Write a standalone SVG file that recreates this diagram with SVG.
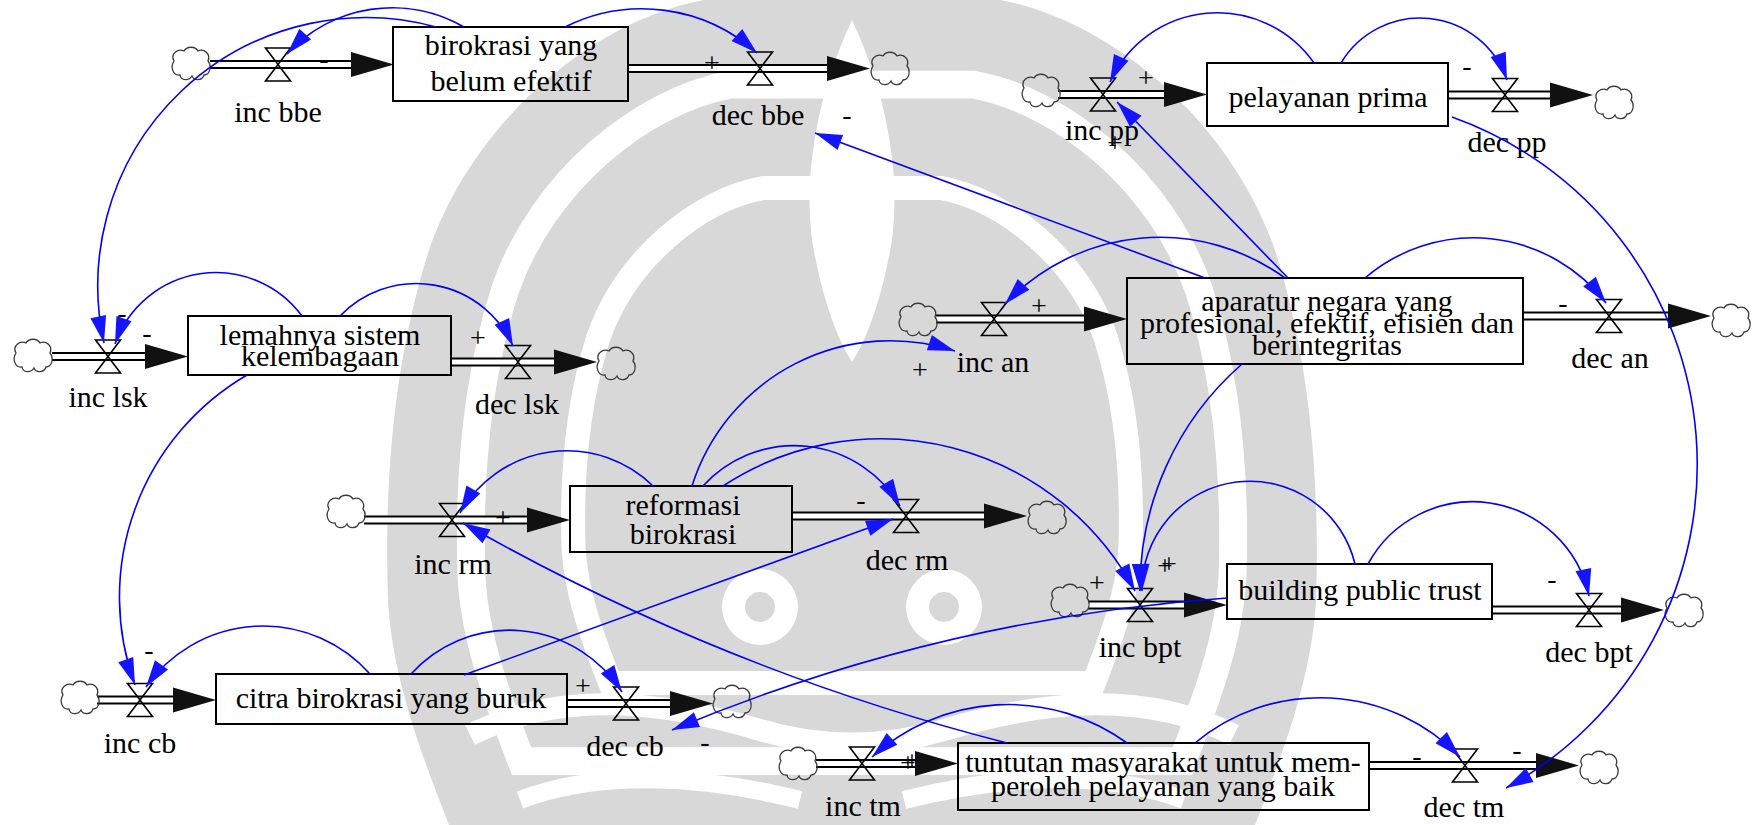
<svg xmlns="http://www.w3.org/2000/svg" width="1754" height="825" viewBox="0 0 1754 825">
<style>
  text { font-family: "Liberation Serif", "Times New Roman", serif; font-size: 30px; fill: #000; }
  .lbl { text-anchor: middle; }
  .sign { font-size: 28px; text-anchor: middle; }
  .stock rect { fill: none; stroke: #000; stroke-width: 2; }
  .stock text { text-anchor: middle; }
  .pipe-o { stroke: #000; stroke-width: 9; fill: none; }
  .pipe-i { stroke: #fff; stroke-width: 5; fill: none; }
  .link { fill: none; stroke: #0000ff; stroke-width: 1.6; marker-end: url(#ah); }
  .cloud { fill: none; stroke: #3a3a3a; stroke-width: 1.3; }
  .valve { fill: none; stroke: #000; stroke-width: 1.6; }
  .head { fill: #111; }
  .wm { fill: #d8d8d8; }
  .wm-band { fill: none; stroke: #fff; }
</style>
<defs>
  <marker id="ah" markerUnits="userSpaceOnUse" viewBox="-28 -9 29 18" refX="0" refY="0" markerWidth="29" markerHeight="18" orient="auto">
    <path d="M0,0 L-27,-8 L-27,8 Z" fill="#1414ff"/>
  </marker>
  <path id="cloud" class="cloud" d="M-17,-3 C-21,-10 -13,-16 -7,-13 C-4,-18 4,-18 7,-13 C13,-16 20,-10 17,-3 C21,2 19,11 13,11 C11,17 3,17 1,12 C-2,17 -10,17 -11,11 C-18,12 -21,3 -17,-3 Z"/>
  <path id="valve" class="valve" d="M-12.5,-16.5 H12.5 L0,0 Z M-12.5,16.5 H12.5 L0,0 Z"/>
  <path id="fhead" class="head" d="M0,0 L-43,-12.5 L-43,12.5 Z"/>
  <path id="wm-outline" d="M704,0 L1000,0 C1110,20 1230,120 1275,250 C1310,360 1320,480 1316,600 C1312,680 1280,760 1255,825 L449,825 C424,760 392,680 388,600 C384,480 394,360 429,250 C474,120 594,20 704,0 Z"/>
</defs>

<rect width="1754" height="825" fill="#fff"/>

<!-- faint background emblem -->
<g id="watermark">
  <use href="#wm-outline" class="wm"/>
  <use href="#wm-outline" class="wm-band" stroke-width="34" transform="translate(852 470) scale(0.82) translate(-852 -470)"/>
  <use href="#wm-outline" class="wm-band" stroke-width="40" transform="translate(852 470) scale(0.6) translate(-852 -470)"/>
  <path fill="#fff" d="M852,20 C880,80 902,160 892,240 C882,300 866,340 852,362 C838,340 822,300 812,240 C802,160 824,80 852,20 Z"/>
  <circle cx="760" cy="607" r="38" fill="#fff"/><circle cx="944" cy="607" r="38" fill="#fff"/>
  <circle cx="760" cy="607" r="15" class="wm"/><circle cx="944" cy="607" r="15" class="wm"/>
  <path class="wm-band" stroke-width="22" d="M470,735 C560,690 660,700 760,730 C820,748 884,748 944,730 C1044,700 1144,690 1234,735"/>
  <path class="wm-band" stroke-width="18" d="M520,800 C600,770 700,775 800,800 M904,800 C1004,775 1104,770 1184,800"/>
</g>

<!-- flows: pipe, arrowhead, valve, source/sink cloud, rate name -->
<g id="flow-inc-bbe">
  <path class="pipe-o" d="M210,64.5 H354"/><path class="pipe-i" d="M210,64.5 H354"/>
  <use href="#fhead" x="394" y="64.5"/><use href="#valve" x="278" y="64.5"/><use href="#cloud" x="191" y="64"/>
  <text class="lbl" x="278" y="122">inc bbe</text>
</g>
<g id="flow-dec-bbe">
  <path class="pipe-o" d="M628,68.5 H830"/><path class="pipe-i" d="M628,68.5 H830"/>
  <use href="#fhead" x="870" y="68.5"/><use href="#valve" x="760" y="68.5"/><use href="#cloud" x="890" y="69"/>
  <text class="lbl" x="758" y="125">dec bbe</text>
</g>
<g id="flow-inc-pp">
  <path class="pipe-o" d="M1058,94.5 H1167"/><path class="pipe-i" d="M1058,94.5 H1167"/>
  <use href="#fhead" x="1207" y="94.5"/><use href="#valve" x="1103" y="94.5"/><use href="#cloud" x="1041" y="91"/>
  <text class="lbl" x="1102" y="140">inc pp</text>
</g>
<g id="flow-dec-pp">
  <path class="pipe-o" d="M1448,95 H1552"/><path class="pipe-i" d="M1448,95 H1552"/>
  <use href="#fhead" x="1593" y="95"/><use href="#valve" x="1505" y="95"/><use href="#cloud" x="1614" y="103"/>
  <text class="lbl" x="1507" y="152">dec pp</text>
</g>
<g id="flow-inc-an">
  <path class="pipe-o" d="M936,319 H1087"/><path class="pipe-i" d="M936,319 H1087"/>
  <use href="#fhead" x="1127" y="319"/><use href="#valve" x="994" y="319"/><use href="#cloud" x="918" y="320"/>
  <text class="lbl" x="993" y="372">inc an</text>
</g>
<g id="flow-dec-an">
  <path class="pipe-o" d="M1523,316 H1670"/><path class="pipe-i" d="M1523,316 H1670"/>
  <use href="#fhead" x="1711" y="316"/><use href="#valve" x="1609" y="316"/><use href="#cloud" x="1731" y="321"/>
  <text class="lbl" x="1610" y="368">dec an</text>
</g>
<g id="flow-inc-lsk">
  <path class="pipe-o" d="M52,356.5 H147"/><path class="pipe-i" d="M52,356.5 H147"/>
  <use href="#fhead" x="188" y="356.5"/><use href="#valve" x="108" y="356.5"/><use href="#cloud" x="33" y="356"/>
  <text class="lbl" x="108" y="407">inc lsk</text>
</g>
<g id="flow-dec-lsk">
  <path class="pipe-o" d="M451,362 H556"/><path class="pipe-i" d="M451,362 H556"/>
  <use href="#fhead" x="597" y="362"/><use href="#valve" x="518" y="362"/><use href="#cloud" x="616" y="364"/>
  <text class="lbl" x="517" y="414">dec lsk</text>
</g>
<g id="flow-inc-rm">
  <path class="pipe-o" d="M364,520 H530"/><path class="pipe-i" d="M364,520 H530"/>
  <use href="#fhead" x="570" y="520"/><use href="#valve" x="452" y="520"/><use href="#cloud" x="346" y="512"/>
  <text class="lbl" x="453" y="574">inc rm</text>
</g>
<g id="flow-dec-rm">
  <path class="pipe-o" d="M792,516 H985"/><path class="pipe-i" d="M792,516 H985"/>
  <use href="#fhead" x="1027" y="516"/><use href="#valve" x="906" y="516"/><use href="#cloud" x="1047" y="518"/>
  <text class="lbl" x="907" y="570">dec rm</text>
</g>
<g id="flow-inc-bpt">
  <path class="pipe-o" d="M1088,605 H1185"/><path class="pipe-i" d="M1088,605 H1185"/>
  <use href="#fhead" x="1227" y="605"/><use href="#valve" x="1140" y="605"/><use href="#cloud" x="1070" y="601"/>
  <text class="lbl" x="1140" y="657">inc bpt</text>
</g>
<g id="flow-dec-bpt">
  <path class="pipe-o" d="M1492,610 H1623"/><path class="pipe-i" d="M1492,610 H1623"/>
  <use href="#fhead" x="1664" y="610"/><use href="#valve" x="1589" y="610"/><use href="#cloud" x="1684" y="611"/>
  <text class="lbl" x="1589" y="662">dec bpt</text>
</g>
<g id="flow-inc-cb">
  <path class="pipe-o" d="M97,700 H175"/><path class="pipe-i" d="M97,700 H175"/>
  <use href="#fhead" x="216" y="700"/><use href="#valve" x="140" y="700"/><use href="#cloud" x="80" y="698"/>
  <text class="lbl" x="140" y="753">inc cb</text>
</g>
<g id="flow-dec-cb">
  <path class="pipe-o" d="M567,703.5 H672"/><path class="pipe-i" d="M567,703.5 H672"/>
  <use href="#fhead" x="713" y="703.5"/><use href="#valve" x="626" y="703.5"/><use href="#cloud" x="732" y="702"/>
  <text class="lbl" x="625" y="756">dec cb</text>
</g>
<g id="flow-inc-tm">
  <path class="pipe-o" d="M816,763.5 H917"/><path class="pipe-i" d="M816,763.5 H917"/>
  <use href="#fhead" x="958" y="763.5"/><use href="#valve" x="862" y="763.5"/><use href="#cloud" x="798" y="764"/>
  <text class="lbl" x="863" y="816">inc tm</text>
</g>
<g id="flow-dec-tm">
  <path class="pipe-o" d="M1369,765.5 H1538"/><path class="pipe-i" d="M1369,765.5 H1538"/>
  <use href="#fhead" x="1579" y="765.5"/><use href="#valve" x="1465" y="765.5"/><use href="#cloud" x="1599" y="768"/>
  <text class="lbl" x="1464" y="817">dec tm</text>
</g>

<!-- stocks -->
<g id="stock-birokrasi" class="stock">
  <rect x="393" y="27" width="235" height="74"/>
  <text x="511" y="55">birokrasi yang</text><text x="511" y="91">belum efektif</text>
</g>
<g id="stock-pelayanan" class="stock">
  <rect x="1207" y="63" width="241" height="63"/>
  <text x="1328" y="107">pelayanan prima</text>
</g>
<g id="stock-aparatur" class="stock">
  <rect x="1127" y="278" width="396" height="86"/>
  <text x="1327" y="311">aparatur negara yang</text>
  <text x="1327" y="333">profesional, efektif, efisien dan</text>
  <text x="1327" y="355">berintegritas</text>
</g>
<g id="stock-lemahnya" class="stock">
  <rect x="188" y="316" width="263" height="59"/>
  <text x="320" y="345">lemahnya sistem</text><text x="320" y="366">kelembagaan</text>
</g>
<g id="stock-reformasi" class="stock">
  <rect x="570" y="486" width="222" height="66"/>
  <text x="683" y="515">reformasi</text><text x="683" y="544">birokrasi</text>
</g>
<g id="stock-trust" class="stock">
  <rect x="1227" y="564" width="265" height="55"/>
  <text x="1360" y="600">building public trust</text>
</g>
<g id="stock-citra" class="stock">
  <rect x="216" y="674" width="351" height="50"/>
  <text x="391" y="708">citra birokrasi yang buruk</text>
</g>
<g id="stock-tuntutan" class="stock">
  <rect x="958" y="743" width="411" height="67"/>
  <text x="1163" y="772">tuntutan masyarakat untuk mem-</text>
  <text x="1163" y="796">peroleh pelayanan yang baik</text>
</g>

<!-- causal links -->
<g id="links">
  <path class="link" d="M436,27 A268,268 0 0,0 104,343"/>
  <path class="link" d="M464,27 A143,143 0 0,0 287,54"/>
  <path class="link" d="M565,27 A172,172 0 0,1 757,53"/>
  <path class="link" d="M1205,278 L815,133"/>
  <path class="link" d="M1288,278 L1117,102"/>
  <path class="link" d="M1285,278 A213,213 0 0,0 1005,304"/>
  <path class="link" d="M1365,278 A167,167 0 0,1 1606,303"/>
  <path class="link" d="M1242,364 A298,298 0 0,0 1140,591"/>
  <path class="link" d="M1314,63 A118,118 0 0,0 1110,82"/>
  <path class="link" d="M1341,63 A92,92 0 0,1 1507,80"/>
  <path class="link" d="M1452,117 A369,369 0 0,1 1506,788"/>
  <path class="link" d="M302,316 A107,107 0 0,0 115,344"/>
  <path class="link" d="M340,316 A106,106 0 0,1 513,346"/>
  <path class="link" d="M247,375 A257,257 0 0,0 135,685"/>
  <path class="link" d="M653,486 A123,123 0 0,0 460,513"/>
  <path class="link" d="M692,486 A208,208 0 0,1 955,351"/>
  <path class="link" d="M703,486 A123,123 0 0,1 900,506"/>
  <path class="link" d="M723,486 A288,288 0 0,1 1135,591"/>
  <path class="link" d="M464,675 L893,519"/>
  <path class="link" d="M1007,743 A2188,2188 0 0,1 463,523"/>
  <path class="link" d="M1227,598 A1767,1767 0 0,0 672,730"/>
  <path class="link" d="M1355,564 A108,108 0 0,0 1142,591"/>
  <path class="link" d="M1368,564 A119,119 0 0,1 1589,596"/>
  <path class="link" d="M370,674 A143,143 0 0,0 146,687"/>
  <path class="link" d="M411,674 A133,133 0 0,1 622,692"/>
  <path class="link" d="M1127,743 A203,203 0 0,0 872,757"/>
  <path class="link" d="M1195,743 A195,195 0 0,1 1460,757"/>
</g>

<!-- link polarities -->
<g id="polarities">
  <text class="sign" x="324" y="68">-</text>
  <text class="sign" x="712" y="72">+</text>
  <text class="sign" x="847" y="124">-</text>
  <text class="sign" x="1146" y="87">+</text>
  <text class="sign" x="1115" y="152">+</text>
  <text class="sign" x="1467" y="75">-</text>
  <text class="sign" x="1039" y="315">+</text>
  <text class="sign" x="920" y="379">+</text>
  <text class="sign" x="1563" y="312">-</text>
  <text class="sign" x="147" y="342">-</text>
  <text class="sign" x="122" y="322">-</text>
  <text class="sign" x="478" y="347">+</text>
  <text class="sign" x="503" y="527">+</text>
  <text class="sign" x="861" y="509">-</text>
  <text class="sign" x="1097" y="592">+</text>
  <text class="sign" x="1165" y="575">+</text>
  <text class="sign" x="1169" y="573">+</text>
  <text class="sign" x="1552" y="588">-</text>
  <text class="sign" x="149" y="659">-</text>
  <text class="sign" x="583" y="695">+</text>
  <text class="sign" x="705" y="751">-</text>
  <text class="sign" x="908" y="772">+</text>
  <text class="sign" x="912" y="770">+</text>
  <text class="sign" x="1417" y="765">-</text>
  <text class="sign" x="1517" y="759">-</text>
</g>
</svg>
